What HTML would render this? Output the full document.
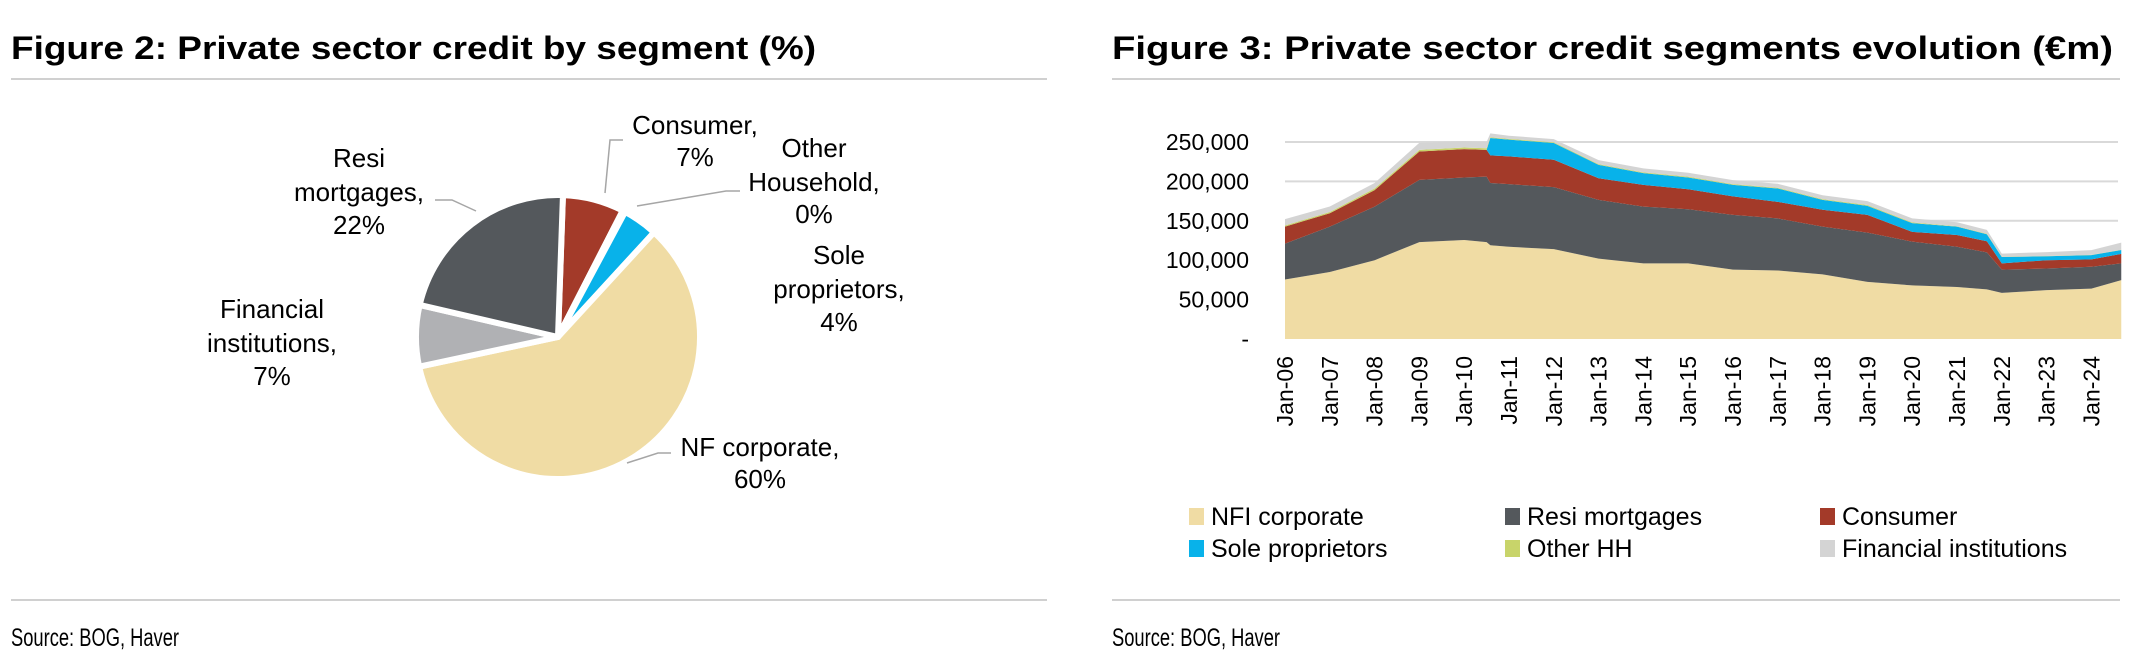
<!DOCTYPE html>
<html><head><meta charset="utf-8"><style>
html,body{margin:0;padding:0;background:#fff;}
svg{display:block;font-family:"Liberation Sans",sans-serif;}
</style></head><body>
<svg id="root" width="2131" height="660" viewBox="0 0 2131 660" xmlns="http://www.w3.org/2000/svg">
  <g>
    <text x="11" y="59" font-size="32" font-weight="bold" fill="#000" textLength="805" lengthAdjust="spacingAndGlyphs">Figure 2: Private sector credit by segment (%)</text>
    <rect x="11" y="78" width="1036" height="2" fill="#d0d0d0"/>
    <rect x="11" y="599" width="1036" height="2" fill="#d0d0d0"/>
    <text x="11" y="646" font-size="25" fill="#000" textLength="168" lengthAdjust="spacingAndGlyphs">Source: BOG, Haver</text>
    <g id="pie"></g>
  </g>
  <g>
    <text x="1112" y="59" font-size="32" font-weight="bold" fill="#000" textLength="1001" lengthAdjust="spacingAndGlyphs">Figure 3: Private sector credit segments evolution (€m)</text>
    <rect x="1112" y="78" width="1008" height="2" fill="#d0d0d0"/>
    <rect x="1112" y="599" width="1008" height="2" fill="#d0d0d0"/>
    <text x="1112" y="646" font-size="25" fill="#000" textLength="168" lengthAdjust="spacingAndGlyphs">Source: BOG, Haver</text>
    <g id="area"></g>
    <g id="legend"></g>
  </g>
</svg>
<script>
// ---- Pie data ----
const pieLabels = ["Consumer","Other Household","Sole proprietors","NF corporate","Financial institutions","Resi mortgages"];
const pieValues = [7, 0.3, 4, 60, 7, 22];
const piePct = ["7%","0%","4%","60%","7%","22%"];

// ---- Area data (EUR thousands of millions, i.e. k€m) ----
const dates = ["2006-01","2007-01","2008-01","2009-01","2010-01","2010-07","2010-08","2011-01","2012-01","2013-01","2014-01","2015-01","2016-01","2017-01","2018-01","2019-01","2020-01","2021-01","2021-09","2022-01","2023-01","2024-01","2024-09"];
const nfcSeries = [75.5,85,100,123,125.6,123,119,117,114,102,96,96,88,87,82,72.5,68,66,63,58.5,62,64,74.7];
const resiSeries = [45.5,57.6,68,79,79.4,83,79,79.5,78.7,74.5,72,68.7,69.5,66,60.6,62.5,55.5,51,47,29.5,27.5,27.7,21.3];
const consumerSeries = [21.6,17,21,36,36,34,35,35.2,34.8,27.5,27.6,25.3,23.5,21,21.4,22.5,12.5,15,14,8,10.5,9.3,12];
const soleSeries = [0,0,0,0,0,0,22,21.3,21.2,17,14.9,15,14.6,17,12.5,11.5,11,10.6,9,8,5,5.5,5];
const otherHHSeries = [1.5,1.5,2,2,2,2,1,1,1,1,1,1,1,1,1,1,1,0.5,0.5,0.3,0.3,0.3,0.3];
const finSeries = [8,7,7,9,8,8,5,4,4,5,5,5,5,5,5,5,5,5,5,4,5,6,9];
const yTicks = [0,50,100,150,200,250];
const yTickLabels = ["-","50,000","100,000","150,000","200,000","250,000"];
const xYears = [2006,2007,2008,2009,2010,2011,2012,2013,2014,2015,2016,2017,2018,2019,2020,2021,2022,2023,2024];

const NS = "http://www.w3.org/2000/svg";
function mk(tag, attrs, parent){const e=document.createElementNS(NS,tag);for(const k in attrs)e.setAttribute(k,attrs[k]);parent.appendChild(e);return e;}

// ---- Pie ----
(function(){
  const g=document.getElementById('pie');
  const cx=558, cy=337, r=142;
  const colors=["#a33a29","#c8d46a","#08b2ea","#f0dca4","#b0b1b4","#54585c"];
  const total=pieValues.reduce((a,b)=>a+b,0);
  let a0=0.5*Math.PI/180*4;
  pieValues.forEach((v,i)=>{
    const a1=a0+v/total*2*Math.PI;
    const x0=cx+r*Math.sin(a0), y0=cy-r*Math.cos(a0), x1=cx+r*Math.sin(a1), y1=cy-r*Math.cos(a1);
    const large=(a1-a0)>Math.PI?1:0;
    const p=mk('path',{d:`M${cx},${cy} L${x0},${y0} A${r},${r} 0 ${large} 1 ${x1},${y1} Z`,fill:colors[i],stroke:'#fff','stroke-width':6,'stroke-linejoin':'round'},g);
    
    
    a0=a1;
  });
  const leaders=[[[605,193],[610,140],[623,140]],[[637,206],[726,191],[740,191]],[[476,211],[452,200],[435,200]],[[627,463],[658,453],[671,453]]];
  leaders.forEach((pts,i)=>{
    const l=mk('polyline',{points:pts.map(p=>p.join(',')).join(' '),fill:'none',stroke:'#a6a6a6','stroke-width':1.5},g);
    
    
  });
  const labels=[
    [695,[125,157],["Consumer,",piePct[0]]],
    [814,[148,182,214],["Other","Household,",piePct[1]]],
    [839,[255,289,322],["Sole","proprietors,",piePct[2]]],
    [760,[447,479],["NF corporate,",piePct[3]]],
    [272,[309,343,376],["Financial","institutions,",piePct[4]]],
    [359,[158,192,225],["Resi","mortgages,",piePct[5]]]
  ];
  labels.forEach((lb,i)=>{
    const t=mk('text',{x:lb[0],'font-size':26,'text-anchor':'middle',fill:'#000'},g);
    
    
    lb[2].forEach((s,j)=>{const ts=mk('tspan',{x:lb[0],y:lb[1][j]+9},t);ts.textContent=s;});
  });
})();

// ---- Area ----
(function(){
  const g=document.getElementById('area');
  const X0=1285, perYear=44.8, Y0=339, YMAX=142;
  const xOf=d=>{const [y,m]=d.split('-').map(Number);return X0+(y-2006+(m-1)/12)*perYear;};
  const xOfYear=y=>X0+(y-2006)*perYear;
  const yOf=v=>Y0-(v/250)*(Y0-YMAX);
  yTicks.forEach((v,i)=>{
    if(v>0){const l=mk('line',{x1:1285,x2:2118,y1:yOf(v),y2:yOf(v),stroke:'#d9d9d9','stroke-width':2},g);
      
      }
    const t=mk('text',{x:1249,y:yOf(v)+8,'font-size':23,'text-anchor':'end',fill:'#000'},g);
    t.textContent=yTickLabels[i];
    
    
  });
  const series=[nfcSeries,resiSeries,consumerSeries,soleSeries,otherHHSeries,finSeries];
  const names=["nfi-corporate","resi-mortgages","consumer","sole-proprietors","other-hh","financial-institutions"];
  const colors=["#f0dca4","#54585c","#a33a29","#08b2ea","#c8d46a","#d4d4d4"];
  let base=dates.map(()=>0);
  series.forEach((s,k)=>{
    const top=base.map((b,i)=>b+s[i]);
    let d='M'+dates.map((dt,i)=>xOf(dt)+','+yOf(top[i])).join(' L');
    for(let i=dates.length-1;i>=0;i--) d+=' L'+xOf(dates[i])+','+yOf(base[i]);
    d+=' Z';
    const p=mk('path',{d:d,fill:colors[k]},g);
    
    
    base=top;
  });
  xYears.forEach(y=>{
    const x=xOfYear(y);
    const t=mk('text',{x:0,y:0,'font-size':23,'text-anchor':'end',fill:'#000',transform:`translate(${x+8},356) rotate(-90)`},g);
    t.textContent='Jan-'+String(y).slice(2);
    
    
  });
})();

// ---- Legend ----
(function(){
  const g=document.getElementById('legend');
  const items=[["NFI corporate","#f0dca4",1189,516],["Resi mortgages","#54585c",1505,516],["Consumer","#a33a29",1820,516],
               ["Sole proprietors","#08b2ea",1189,548],["Other HH","#c8d46a",1505,548],["Financial institutions","#d4d4d4",1820,548]];
  items.forEach(it=>{
    const r=mk('rect',{x:it[2],y:it[3]-8,width:15,height:17,fill:it[1]},g);
    
    
    const t=mk('text',{x:it[2]+22,y:it[3]+9,'font-size':25,fill:'#000'},g);
    t.textContent=it[0];
    
    
  });
})();
</script>
</body></html>
